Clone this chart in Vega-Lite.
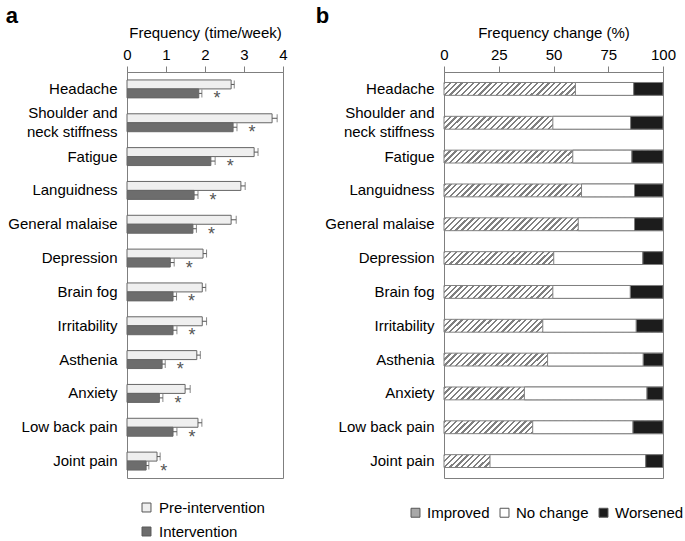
{
  "$schema": "https://vega.github.io/schema/vega-lite/v6.json",
  "padding": {"left": 5, "top": 4, "right": 5, "bottom": 5},
  "config": {
    "font": "Liberation Sans",
    "view": {"stroke": "#7f7f7f", "strokeWidth": 1},
    "axis": {"labelFont": "Liberation Sans", "labelFontSize": 15, "labelColor": "#000", "titleFont": "Liberation Sans", "titleFontSize": 15, "titleFontWeight": "normal", "titleColor": "#000", "domainColor": "#7f7f7f", "tickColor": "#7f7f7f", "grid": false},
    "legend": {"labelFont": "Liberation Sans", "labelFontSize": 15, "labelColor": "#000"},
    "title": {"font": "Liberation Sans", "fontSize": 22, "fontWeight": "bold", "anchor": "start", "frame": "bounds", "color": "#000", "offset": -3},
    "concat": {"spacing": 27}
  },
  "resolve": {"scale": {"fill": "independent"}, "legend": {"fill": "independent"}},
  "hconcat": [
    {
      "width": 156,
      "height": 406,
      "title": {"text": "a", "dx": -2},
      "data": {"values": [
        {"symptom": "Headache", "group": "Pre-intervention", "mean": 2.67, "upper": 2.75},
        {"symptom": "Headache", "group": "Intervention", "mean": 1.84, "upper": 1.92},
        {"symptom": "Shoulder and neck stiffness", "group": "Pre-intervention", "mean": 3.72, "upper": 3.85},
        {"symptom": "Shoulder and neck stiffness", "group": "Intervention", "mean": 2.72, "upper": 2.82},
        {"symptom": "Fatigue", "group": "Pre-intervention", "mean": 3.26, "upper": 3.36},
        {"symptom": "Fatigue", "group": "Intervention", "mean": 2.15, "upper": 2.26},
        {"symptom": "Languidness", "group": "Pre-intervention", "mean": 2.92, "upper": 3.03},
        {"symptom": "Languidness", "group": "Intervention", "mean": 1.72, "upper": 1.82},
        {"symptom": "General malaise", "group": "Pre-intervention", "mean": 2.67, "upper": 2.8},
        {"symptom": "General malaise", "group": "Intervention", "mean": 1.69, "upper": 1.78},
        {"symptom": "Depression", "group": "Pre-intervention", "mean": 1.95, "upper": 2.04},
        {"symptom": "Depression", "group": "Intervention", "mean": 1.11, "upper": 1.21},
        {"symptom": "Brain fog", "group": "Pre-intervention", "mean": 1.93, "upper": 2.02},
        {"symptom": "Brain fog", "group": "Intervention", "mean": 1.18, "upper": 1.27},
        {"symptom": "Irritability", "group": "Pre-intervention", "mean": 1.93, "upper": 2.04},
        {"symptom": "Irritability", "group": "Intervention", "mean": 1.18, "upper": 1.28},
        {"symptom": "Asthenia", "group": "Pre-intervention", "mean": 1.79, "upper": 1.88},
        {"symptom": "Asthenia", "group": "Intervention", "mean": 0.9, "upper": 0.98},
        {"symptom": "Anxiety", "group": "Pre-intervention", "mean": 1.49, "upper": 1.62},
        {"symptom": "Anxiety", "group": "Intervention", "mean": 0.83, "upper": 0.92},
        {"symptom": "Low back pain", "group": "Pre-intervention", "mean": 1.82, "upper": 1.92},
        {"symptom": "Low back pain", "group": "Intervention", "mean": 1.18, "upper": 1.28},
        {"symptom": "Joint pain", "group": "Pre-intervention", "mean": 0.77, "upper": 0.85},
        {"symptom": "Joint pain", "group": "Intervention", "mean": 0.49, "upper": 0.56}
      ]},
      "encoding": {
        "y": {"field": "symptom", "type": "nominal",
          "scale": {"domain": ["Headache","Shoulder and neck stiffness","Fatigue","Languidness","General malaise","Depression","Brain fog","Irritability","Asthenia","Anxiety","Low back pain","Joint pain"], "paddingInner": 0.47, "paddingOuter": 0.235},
          "axis": {"title": null, "ticks": false, "tickSize": 0, "domain": false, "labelPadding": 10, "labelLineHeight": 19,
            "labelOffset": {"condition": {"test": "datum.label === 'Shoulder and neck stiffness'", "value": -10}, "value": 0},
            "labelExpr": "datum.label === 'Shoulder and neck stiffness' ? ['Shoulder and', 'neck stiffness'] : datum.label"}},
        "yOffset": {"field": "group", "type": "nominal", "scale": {"domain": ["Pre-intervention", "Intervention"], "paddingInner": 0, "paddingOuter": 0}}
      },
      "layer": [
        {
          "mark": {"type": "bar", "stroke": "#666666", "strokeWidth": 1},
          "encoding": {
            "x": {"field": "mean", "type": "quantitative", "scale": {"domain": [0, 4]},
              "axis": {"orient": "top", "title": "Frequency  (time/week)", "values": [0, 1, 2, 3, 4], "tickCount": 5, "tickSize": 6, "labelPadding": 4, "titlePadding": 7, "labelFlush": false, "labelOverlap": false}},
            "fill": {"field": "group", "type": "nominal",
              "scale": {"domain": ["Pre-intervention", "Intervention"], "range": ["#efefef", "#6d6d6d"]},
              "legend": {"title": null, "orient": "none", "legendX": 12, "legendY": 428, "direction": "vertical", "symbolType": "square", "symbolSize": 80, "symbolStrokeColor": "#555555", "symbolStrokeWidth": 1, "rowPadding": 8, "labelOffset": 5}}
          }
        },
        {
          "mark": {"type": "rule", "color": "#555555", "strokeWidth": 1},
          "encoding": {"x": {"field": "mean", "type": "quantitative",
              "axis": {"orient": "top", "title": "Frequency  (time/week)", "values": [0, 1, 2, 3, 4], "tickCount": 5, "tickSize": 6, "labelPadding": 4, "titlePadding": 7, "labelFlush": false, "labelOverlap": false}},
            "x2": {"field": "upper"}}
        },
        {
          "mark": {"type": "tick", "color": "#555555", "size": 8, "thickness": 1, "orient": "vertical"},
          "encoding": {"x": {"field": "upper", "type": "quantitative",
              "axis": {"orient": "top", "title": "Frequency  (time/week)", "values": [0, 1, 2, 3, 4], "tickCount": 5, "tickSize": 6, "labelPadding": 4, "titlePadding": 7, "labelFlush": false, "labelOverlap": false}}}
        },
        {
          "transform": [{"filter": "datum.group === 'Intervention'"}],
          "mark": {"type": "text", "text": "*", "dx": 15, "dy": 6, "fontSize": 18, "color": "#555555", "font": "Liberation Sans"},
          "encoding": {"x": {"field": "upper", "type": "quantitative",
              "axis": {"orient": "top", "title": "Frequency  (time/week)", "values": [0, 1, 2, 3, 4], "tickCount": 5, "tickSize": 6, "labelPadding": 4, "titlePadding": 7, "labelFlush": false, "labelOverlap": false}}}
        }
      ]
    },
    {
      "width": 219,
      "height": 406,
      "title": {"text": "b", "dx": -9},
      "data": {"values": [
        {"symptom": "Headache", "change": "Improved", "pct": 60},
        {"symptom": "Headache", "change": "No change", "pct": 26.6},
        {"symptom": "Headache", "change": "Worsened", "pct": 13.4},
        {"symptom": "Shoulder and neck stiffness", "change": "Improved", "pct": 49.7},
        {"symptom": "Shoulder and neck stiffness", "change": "No change", "pct": 35.5},
        {"symptom": "Shoulder and neck stiffness", "change": "Worsened", "pct": 14.8},
        {"symptom": "Fatigue", "change": "Improved", "pct": 58.8},
        {"symptom": "Fatigue", "change": "No change", "pct": 27},
        {"symptom": "Fatigue", "change": "Worsened", "pct": 14.2},
        {"symptom": "Languidness", "change": "Improved", "pct": 62.8},
        {"symptom": "Languidness", "change": "No change", "pct": 24.2},
        {"symptom": "Languidness", "change": "Worsened", "pct": 13},
        {"symptom": "General malaise", "change": "Improved", "pct": 61.3},
        {"symptom": "General malaise", "change": "No change", "pct": 25.7},
        {"symptom": "General malaise", "change": "Worsened", "pct": 13},
        {"symptom": "Depression", "change": "Improved", "pct": 50.1},
        {"symptom": "Depression", "change": "No change", "pct": 40.7},
        {"symptom": "Depression", "change": "Worsened", "pct": 9.2},
        {"symptom": "Brain fog", "change": "Improved", "pct": 49.7},
        {"symptom": "Brain fog", "change": "No change", "pct": 35.4},
        {"symptom": "Brain fog", "change": "Worsened", "pct": 14.9},
        {"symptom": "Irritability", "change": "Improved", "pct": 45.1},
        {"symptom": "Irritability", "change": "No change", "pct": 42.7},
        {"symptom": "Irritability", "change": "Worsened", "pct": 12.2},
        {"symptom": "Asthenia", "change": "Improved", "pct": 47.3},
        {"symptom": "Asthenia", "change": "No change", "pct": 43.7},
        {"symptom": "Asthenia", "change": "Worsened", "pct": 9},
        {"symptom": "Anxiety", "change": "Improved", "pct": 36.7},
        {"symptom": "Anxiety", "change": "No change", "pct": 56},
        {"symptom": "Anxiety", "change": "Worsened", "pct": 7.3},
        {"symptom": "Low back pain", "change": "Improved", "pct": 40.5},
        {"symptom": "Low back pain", "change": "No change", "pct": 45.8},
        {"symptom": "Low back pain", "change": "Worsened", "pct": 13.7},
        {"symptom": "Joint pain", "change": "Improved", "pct": 21},
        {"symptom": "Joint pain", "change": "No change", "pct": 71.1},
        {"symptom": "Joint pain", "change": "Worsened", "pct": 7.9}
      ]},
      "encoding": {
        "y": {"field": "symptom", "type": "nominal",
          "scale": {"domain": ["Headache","Shoulder and neck stiffness","Fatigue","Languidness","General malaise","Depression","Brain fog","Irritability","Asthenia","Anxiety","Low back pain","Joint pain"], "paddingInner": 0.62, "paddingOuter": 0.31},
          "axis": {"title": null, "ticks": false, "tickSize": 0, "domain": false, "labelPadding": 10, "labelLineHeight": 19,
            "labelOffset": {"condition": {"test": "datum.label === 'Shoulder and neck stiffness'", "value": -10}, "value": 0},
            "labelExpr": "datum.label === 'Shoulder and neck stiffness' ? ['Shoulder and', 'neck stiffness'] : datum.label"}}
      },
      "layer": [
        {
          "transform": [{"filter": "datum.change === 'Improved'"}],
          "mark": {"type": "bar", "stroke": "#808080", "strokeWidth": 1,
            "fill": {"gradient": "linear", "x1": 0, "y1": 0, "x2": 1.0553, "y2": 0.06226, "stops": [
              {"offset": 0, "color": "#808080"}, {"offset": 0.01, "color": "#808080"}, {"offset": 0.01, "color": "#ffffff"}, {"offset": 0.025, "color": "#ffffff"},
              {"offset": 0.025, "color": "#808080"}, {"offset": 0.035, "color": "#808080"}, {"offset": 0.035, "color": "#ffffff"}, {"offset": 0.05, "color": "#ffffff"},
              {"offset": 0.05, "color": "#808080"}, {"offset": 0.06, "color": "#808080"}, {"offset": 0.06, "color": "#ffffff"}, {"offset": 0.075, "color": "#ffffff"},
              {"offset": 0.075, "color": "#808080"}, {"offset": 0.085, "color": "#808080"}, {"offset": 0.085, "color": "#ffffff"}, {"offset": 0.1, "color": "#ffffff"},
              {"offset": 0.1, "color": "#808080"}, {"offset": 0.11, "color": "#808080"}, {"offset": 0.11, "color": "#ffffff"}, {"offset": 0.125, "color": "#ffffff"},
              {"offset": 0.125, "color": "#808080"}, {"offset": 0.135, "color": "#808080"}, {"offset": 0.135, "color": "#ffffff"}, {"offset": 0.15, "color": "#ffffff"},
              {"offset": 0.15, "color": "#808080"}, {"offset": 0.16, "color": "#808080"}, {"offset": 0.16, "color": "#ffffff"}, {"offset": 0.175, "color": "#ffffff"},
              {"offset": 0.175, "color": "#808080"}, {"offset": 0.185, "color": "#808080"}, {"offset": 0.185, "color": "#ffffff"}, {"offset": 0.2, "color": "#ffffff"},
              {"offset": 0.2, "color": "#808080"}, {"offset": 0.21, "color": "#808080"}, {"offset": 0.21, "color": "#ffffff"}, {"offset": 0.225, "color": "#ffffff"},
              {"offset": 0.225, "color": "#808080"}, {"offset": 0.235, "color": "#808080"}, {"offset": 0.235, "color": "#ffffff"}, {"offset": 0.25, "color": "#ffffff"},
              {"offset": 0.25, "color": "#808080"}, {"offset": 0.26, "color": "#808080"}, {"offset": 0.26, "color": "#ffffff"}, {"offset": 0.275, "color": "#ffffff"},
              {"offset": 0.275, "color": "#808080"}, {"offset": 0.285, "color": "#808080"}, {"offset": 0.285, "color": "#ffffff"}, {"offset": 0.3, "color": "#ffffff"},
              {"offset": 0.3, "color": "#808080"}, {"offset": 0.31, "color": "#808080"}, {"offset": 0.31, "color": "#ffffff"}, {"offset": 0.325, "color": "#ffffff"},
              {"offset": 0.325, "color": "#808080"}, {"offset": 0.335, "color": "#808080"}, {"offset": 0.335, "color": "#ffffff"}, {"offset": 0.35, "color": "#ffffff"},
              {"offset": 0.35, "color": "#808080"}, {"offset": 0.36, "color": "#808080"}, {"offset": 0.36, "color": "#ffffff"}, {"offset": 0.375, "color": "#ffffff"},
              {"offset": 0.375, "color": "#808080"}, {"offset": 0.385, "color": "#808080"}, {"offset": 0.385, "color": "#ffffff"}, {"offset": 0.4, "color": "#ffffff"},
              {"offset": 0.4, "color": "#808080"}, {"offset": 0.41, "color": "#808080"}, {"offset": 0.41, "color": "#ffffff"}, {"offset": 0.425, "color": "#ffffff"},
              {"offset": 0.425, "color": "#808080"}, {"offset": 0.435, "color": "#808080"}, {"offset": 0.435, "color": "#ffffff"}, {"offset": 0.45, "color": "#ffffff"},
              {"offset": 0.45, "color": "#808080"}, {"offset": 0.46, "color": "#808080"}, {"offset": 0.46, "color": "#ffffff"}, {"offset": 0.475, "color": "#ffffff"},
              {"offset": 0.475, "color": "#808080"}, {"offset": 0.485, "color": "#808080"}, {"offset": 0.485, "color": "#ffffff"}, {"offset": 0.5, "color": "#ffffff"},
              {"offset": 0.5, "color": "#808080"}, {"offset": 0.51, "color": "#808080"}, {"offset": 0.51, "color": "#ffffff"}, {"offset": 0.525, "color": "#ffffff"},
              {"offset": 0.525, "color": "#808080"}, {"offset": 0.535, "color": "#808080"}, {"offset": 0.535, "color": "#ffffff"}, {"offset": 0.55, "color": "#ffffff"},
              {"offset": 0.55, "color": "#808080"}, {"offset": 0.56, "color": "#808080"}, {"offset": 0.56, "color": "#ffffff"}, {"offset": 0.575, "color": "#ffffff"},
              {"offset": 0.575, "color": "#808080"}, {"offset": 0.585, "color": "#808080"}, {"offset": 0.585, "color": "#ffffff"}, {"offset": 0.6, "color": "#ffffff"},
              {"offset": 0.6, "color": "#808080"}, {"offset": 0.61, "color": "#808080"}, {"offset": 0.61, "color": "#ffffff"}, {"offset": 0.625, "color": "#ffffff"},
              {"offset": 0.625, "color": "#808080"}, {"offset": 0.635, "color": "#808080"}, {"offset": 0.635, "color": "#ffffff"}, {"offset": 0.65, "color": "#ffffff"},
              {"offset": 0.65, "color": "#808080"}, {"offset": 0.66, "color": "#808080"}, {"offset": 0.66, "color": "#ffffff"}, {"offset": 0.675, "color": "#ffffff"},
              {"offset": 0.675, "color": "#808080"}, {"offset": 0.685, "color": "#808080"}, {"offset": 0.685, "color": "#ffffff"}, {"offset": 0.7, "color": "#ffffff"},
              {"offset": 0.7, "color": "#808080"}, {"offset": 0.71, "color": "#808080"}, {"offset": 0.71, "color": "#ffffff"}, {"offset": 0.725, "color": "#ffffff"},
              {"offset": 0.725, "color": "#808080"}, {"offset": 0.735, "color": "#808080"}, {"offset": 0.735, "color": "#ffffff"}, {"offset": 0.75, "color": "#ffffff"},
              {"offset": 0.75, "color": "#808080"}, {"offset": 0.76, "color": "#808080"}, {"offset": 0.76, "color": "#ffffff"}, {"offset": 0.775, "color": "#ffffff"},
              {"offset": 0.775, "color": "#808080"}, {"offset": 0.785, "color": "#808080"}, {"offset": 0.785, "color": "#ffffff"}, {"offset": 0.8, "color": "#ffffff"},
              {"offset": 0.8, "color": "#808080"}, {"offset": 0.81, "color": "#808080"}, {"offset": 0.81, "color": "#ffffff"}, {"offset": 0.825, "color": "#ffffff"},
              {"offset": 0.825, "color": "#808080"}, {"offset": 0.835, "color": "#808080"}, {"offset": 0.835, "color": "#ffffff"}, {"offset": 0.85, "color": "#ffffff"},
              {"offset": 0.85, "color": "#808080"}, {"offset": 0.86, "color": "#808080"}, {"offset": 0.86, "color": "#ffffff"}, {"offset": 0.875, "color": "#ffffff"},
              {"offset": 0.875, "color": "#808080"}, {"offset": 0.885, "color": "#808080"}, {"offset": 0.885, "color": "#ffffff"}, {"offset": 0.9, "color": "#ffffff"},
              {"offset": 0.9, "color": "#808080"}, {"offset": 0.91, "color": "#808080"}, {"offset": 0.91, "color": "#ffffff"}, {"offset": 0.925, "color": "#ffffff"},
              {"offset": 0.925, "color": "#808080"}, {"offset": 0.935, "color": "#808080"}, {"offset": 0.935, "color": "#ffffff"}, {"offset": 0.95, "color": "#ffffff"},
              {"offset": 0.95, "color": "#808080"}, {"offset": 0.96, "color": "#808080"}, {"offset": 0.96, "color": "#ffffff"}, {"offset": 0.975, "color": "#ffffff"},
              {"offset": 0.975, "color": "#808080"}, {"offset": 0.985, "color": "#808080"}, {"offset": 0.985, "color": "#ffffff"}, {"offset": 1, "color": "#ffffff"}
            ]}},
          "encoding": {
            "x": {"datum": 0, "type": "quantitative", "scale": {"domain": [0, 100]},
              "axis": {"orient": "top", "title": "Frequency change (%)", "values": [0, 25, 50, 75, 100], "tickSize": 6, "labelPadding": 4, "titlePadding": 7, "labelFlush": false, "labelOverlap": false}},
            "x2": {"datum": 100}
          }
        },
        {
          "transform": [
            {"stack": "pct", "groupby": ["symptom"], "sort": [{"field": "change", "order": "ascending"}], "as": ["p0", "p1"]},
            {"filter": "datum.change !== 'Improved'"}
          ],
          "mark": {"type": "bar", "stroke": "#7f7f7f", "strokeWidth": 1},
          "encoding": {
            "x": {"field": "p0", "type": "quantitative",
              "axis": {"orient": "top", "title": "Frequency change (%)", "values": [0, 25, 50, 75, 100], "tickSize": 6, "labelPadding": 4, "titlePadding": 7, "labelFlush": false, "labelOverlap": false}},
            "x2": {"field": "p1"},
            "fill": {
              "field": "change", "type": "nominal",
              "scale": {"domain": ["Improved", "No change", "Worsened"], "range": ["#a8a8a8", "#ffffff", "#1c1c1c"]},
              "legend": {"title": null, "orient": "none", "legendX": -36, "legendY": 433, "direction": "horizontal", "symbolType": "square", "symbolSize": 80, "symbolStrokeColor": "#555555", "symbolStrokeWidth": 1, "columnPadding": 7, "labelOffset": 4}
            }
          }
        }
      ]
    }
  ]
}
